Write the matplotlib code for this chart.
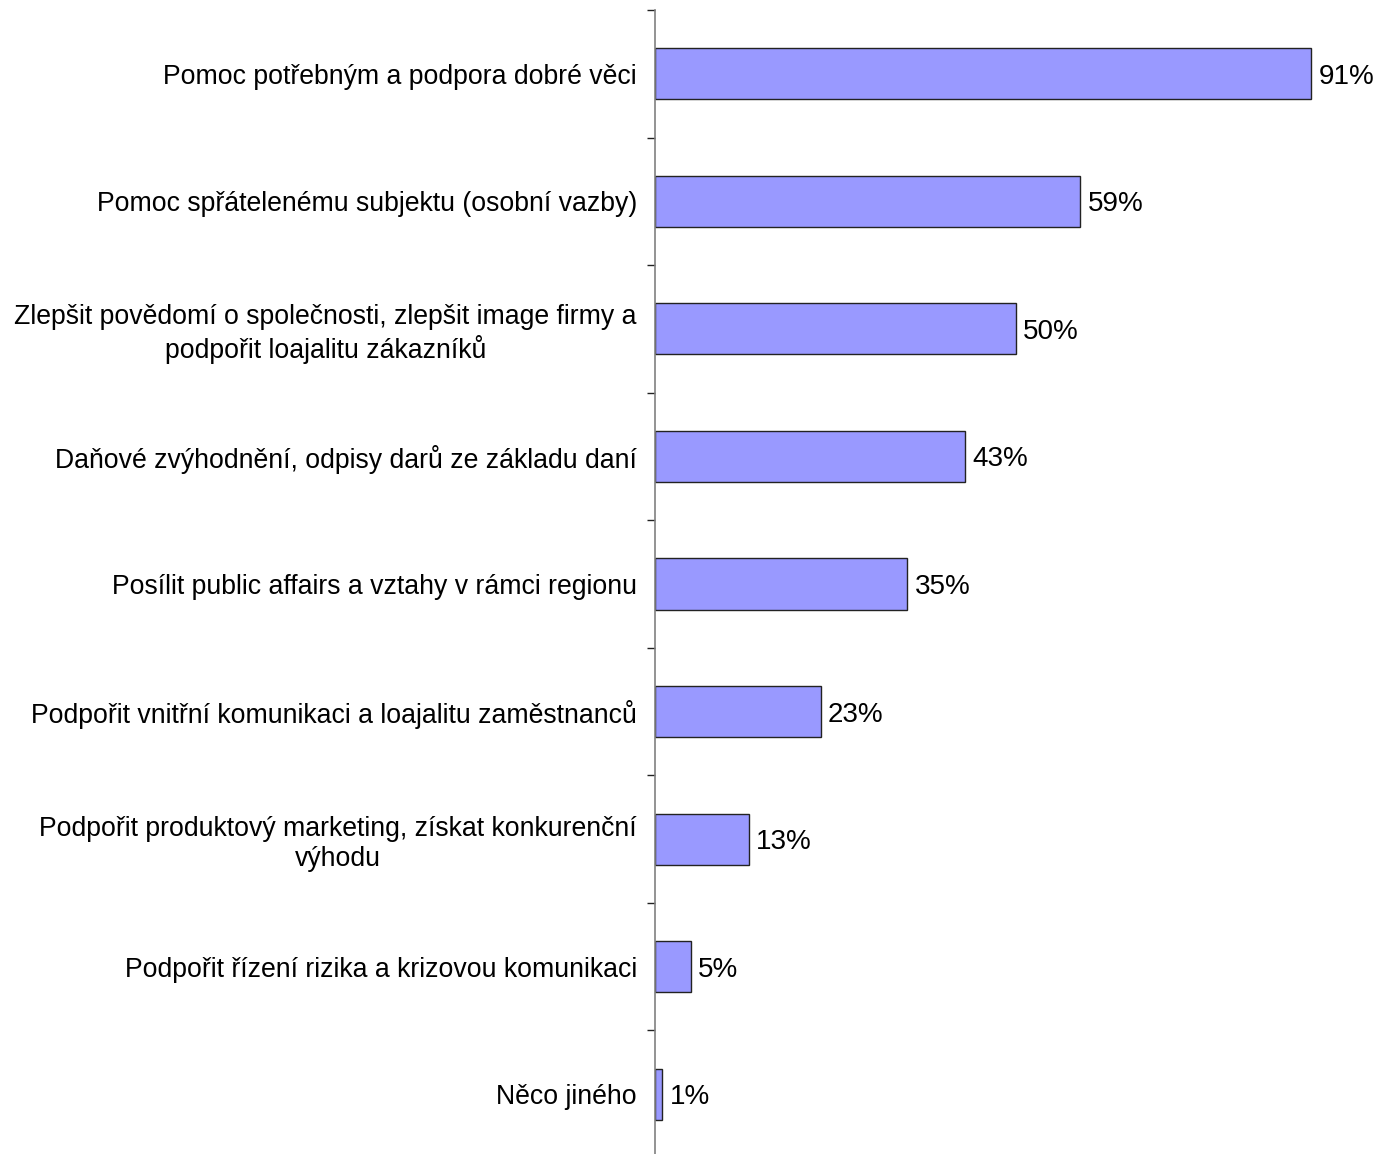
import matplotlib.pyplot as plt
import numpy as np

plt.rcParams['font.family'] = ['Liberation Sans', 'DejaVu Sans']

kategorie = [
    "Pomoc potřebným a podpora dobré věci",
    "Pomoc spřátelenému subjektu (osobní vazby)",
    "Zlepšit povědomí o společnosti, zlepšit image firmy a\npodpořit loajalitu zákazníků",
    "Daňové zvýhodnění, odpisy darů ze základu daní",
    "Posílit public affairs a vztahy v rámci regionu",
    "Podpořit vnitřní komunikaci a loajalitu zaměstnanců",
    "Podpořit produktový marketing, získat konkurenční\nvýhodu",
    "Podpořit řízení rizika a krizovou komunikaci",
    "Něco jiného",
]
hodnoty = [91, 59, 50, 43, 35, 23, 13, 5, 1]

W, H = 1380, 1154
fig = plt.figure(figsize=(W/100, H/100), dpi=100)
ax = fig.add_axes([655/W, (H-1158)/H, (1376-655)/W, 1148/H])

y = np.arange(len(kategorie))
ax.barh(y, hodnoty, height=0.4, color="#9999ff", edgecolor="#222222", linewidth=1)

for yi, v in zip(y, hodnoty):
    ax.text(v + 1.0, yi, f"{v}%", va="center_baseline", ha="left", fontsize=20)

ax.set_xlim(0, 100)
ax.set_ylim(len(kategorie) - 0.5, -0.5)

ax.set_yticks(y)
ax.set_yticklabels(kategorie, fontsize=19.2, multialignment="center")
ax.set_yticks(np.arange(len(kategorie) + 1) - 0.5, minor=True)
ax.tick_params(axis="y", which="major", length=0, pad=13)
ax.tick_params(axis="y", which="minor", length=6, width=1, color="#222222", direction="out")

ax.set_xticks([])
for s in ["top", "right", "bottom"]:
    ax.spines[s].set_visible(False)
ax.spines["left"].set_color("#808080")
ax.spines["left"].set_linewidth(1.2)

fig.savefig("out.png", dpi=100)
